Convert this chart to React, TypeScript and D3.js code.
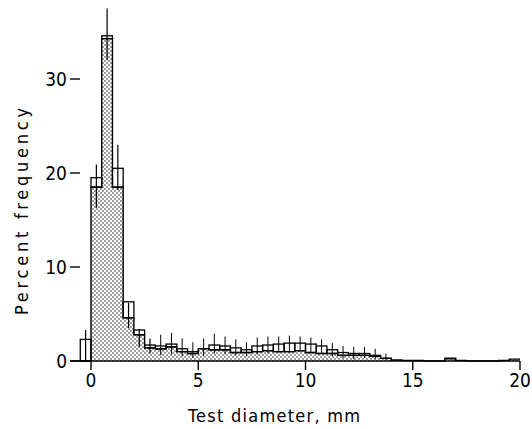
import React from "react";
import * as d3 from "d3";

// bin left edges (mm), 0.5 mm wide
const binStarts = [-0.5, 0, 0.5, 1, 1.5, 2, 2.5, 3, 3.5, 4, 4.5, 5, 5.5, 6, 6.5, 7, 7.5, 8, 8.5, 9, 9.5, 10, 10.5, 11, 11.5, 12, 12.5, 13, 13.5, 14, 14.5, 15, 15.5, 16, 16.5, 17, 17.5, 18, 18.5, 19, 19.5];
// shaded (stippled) histogram, percent
const shadedValues = [0, 18.5, 34.3, 18.5, 4.6, 2.8, 1.4, 1.3, 1.5, 1.0, 0.8, 1.3, 1.2, 1.2, 0.9, 0.9, 1.0, 1.1, 1.0, 1.0, 1.1, 0.9, 0.8, 0.8, 0.6, 0.6, 0.6, 0.5, 0.3, 0.1, 0.05, 0.05, 0, 0, 0.25, 0.05, 0, 0, 0, 0.05, 0.2];
// open (outlined) histogram, percent
const openValues = [2.3, 19.5, 34.6, 20.5, 6.3, 3.3, 1.7, 1.6, 1.8, 1.3, 1.0, 1.3, 1.7, 1.6, 1.4, 1.2, 1.6, 1.7, 1.8, 1.9, 1.9, 1.8, 1.6, 1.2, 0.9, 0.8, 0.8, 0.6, 0.3, 0.1, 0, 0, 0, 0, 0.3, 0, 0, 0, 0, 0, 0.2];
// error bar extents (percent), null where none
const errLow = [0, 16.3, 32, 18.2, 3.5, 1.5, 0.8, 0.6, 0.7, 0.5, 0.3, 0.5, 0.8, 0.7, 0.6, 0.5, 0.7, 0.8, 0.9, 0.9, 1.0, 0.9, 0.8, 0.5, 0.3, 0.2, 0.3, 0.2, 0.1, null, null, null, null, null, null, null, null, null, null, null, null];
const errHigh = [3.3, 20.9, 37.5, 23, 6.2, 3.4, 2.4, 2.8, 3.0, 2.4, 2.0, 2.4, 2.9, 2.6, 2.3, 2.0, 2.5, 2.6, 2.6, 2.7, 2.6, 2.5, 2.3, 1.9, 1.6, 1.5, 1.5, 1.3, 0.8, null, null, null, null, null, null, null, null, null, null, null, null];

const xTicks = [0, 5, 10, 15, 20];
const yTicks = [0, 10, 20, 30];
const binWidth = 0.5;

export default function App() {
  const x = d3.scaleLinear().domain([0, 20]).range([91, 520]);
  const y = d3.scaleLinear().domain([0, 30]).range([361, 79]);
  const font = "'Liberation Sans Narrow', 'DejaVu Sans Condensed', 'Liberation Sans', sans-serif";

  // stepped outline of shaded histogram
  const pts: [number, number][] = [];
  binStarts.forEach((b, i) => {
    const v = shadedValues[i];
    pts.push([x(b), y(v)]);
    pts.push([x(b + binWidth), y(v)]);
  });
  const areaGen = d3.area<[number, number]>().x((d) => d[0]).y0(y(0)).y1((d) => d[1]);
  const lineGen = d3.line<[number, number]>().x((d) => d[0]).y((d) => d[1]);

  return (
    <svg width={532} height={429} style={{ display: "block", position: "absolute", left: 0, top: 0, background: "#fff" }}>
      <defs>
        <pattern id="stip" width={4} height={4} patternUnits="userSpaceOnUse">
          <rect width={4} height={4} fill="#fff" />
          <circle cx={1} cy={1} r={0.8} fill="#222" />
          <circle cx={3} cy={3} r={0.8} fill="#222" />
        </pattern>
      </defs>
      <rect width={532} height={429} fill="#fff" />
      <path d={areaGen(pts) || ""} fill="url(#stip)" stroke="none" />
      <path d={lineGen(pts) || ""} fill="none" stroke="#000" strokeWidth={1.4} />
      {/* open histogram: visible part above the shaded bars */}
      {binStarts.map((b, i) => {
        const v = openValues[i];
        const s = shadedValues[i];
        if (v <= 0 || v <= s) return null;
        return (
          <rect key={"o" + i} x={x(b)} y={y(v)} width={x(b + binWidth) - x(b)} height={y(s) - y(v)} fill="none" stroke="#000" strokeWidth={1.3} />
        );
      })}
      {/* error bars */}
      {binStarts.map((b, i) => {
        const lo = errLow[i];
        const hi = errHigh[i];
        if (lo === null || hi === null) return null;
        const cx = x(b + binWidth / 2);
        const big = i <= 6;
        return (
          <g key={"e" + i}>
            <line x1={cx} x2={cx} y1={y(lo)} y2={y(hi)} stroke="#000" strokeWidth={big ? 1.2 : 1} />
            <line x1={cx - 2.5} x2={cx + 2.5} y1={y(shadedValues[i])} y2={y(shadedValues[i])} stroke="#000" strokeWidth={1} />
          </g>
        );
      })}
      {/* baseline */}
      <line x1={70} x2={x(20)} y1={y(0)} y2={y(0)} stroke="#000" strokeWidth={1.5} />
      {/* y ticks */}
      {yTicks.map((t) => (
        <g key={"yt" + t}>
          <line x1={70} x2={80} y1={y(t)} y2={y(t)} stroke="#000" strokeWidth={1.4} />
          <text x={67} y={y(t)} dy="0.36em" textAnchor="end" fontFamily={font} fontSize={19} fill="#000">{t}</text>
        </g>
      ))}
      {/* x ticks */}
      {xTicks.map((t) => (
        <g key={"xt" + t}>
          <line x1={x(t)} x2={x(t)} y1={y(0)} y2={y(0) + 9} stroke="#000" strokeWidth={1.4} />
          <text x={x(t)} y={387} textAnchor="middle" fontFamily={font} fontSize={19} fill="#000">{t}</text>
        </g>
      ))}
      <text x={188} y={422} fontFamily={font} fontSize={18} textLength={172} lengthAdjust="spacing" fill="#000">Test diameter, mm</text>
      <text transform={`translate(28,315) rotate(-90)`} fontFamily={font} fontSize={18} textLength={207} lengthAdjust="spacing" fill="#000">Percent frequency</text>
    </svg>
  );
}
